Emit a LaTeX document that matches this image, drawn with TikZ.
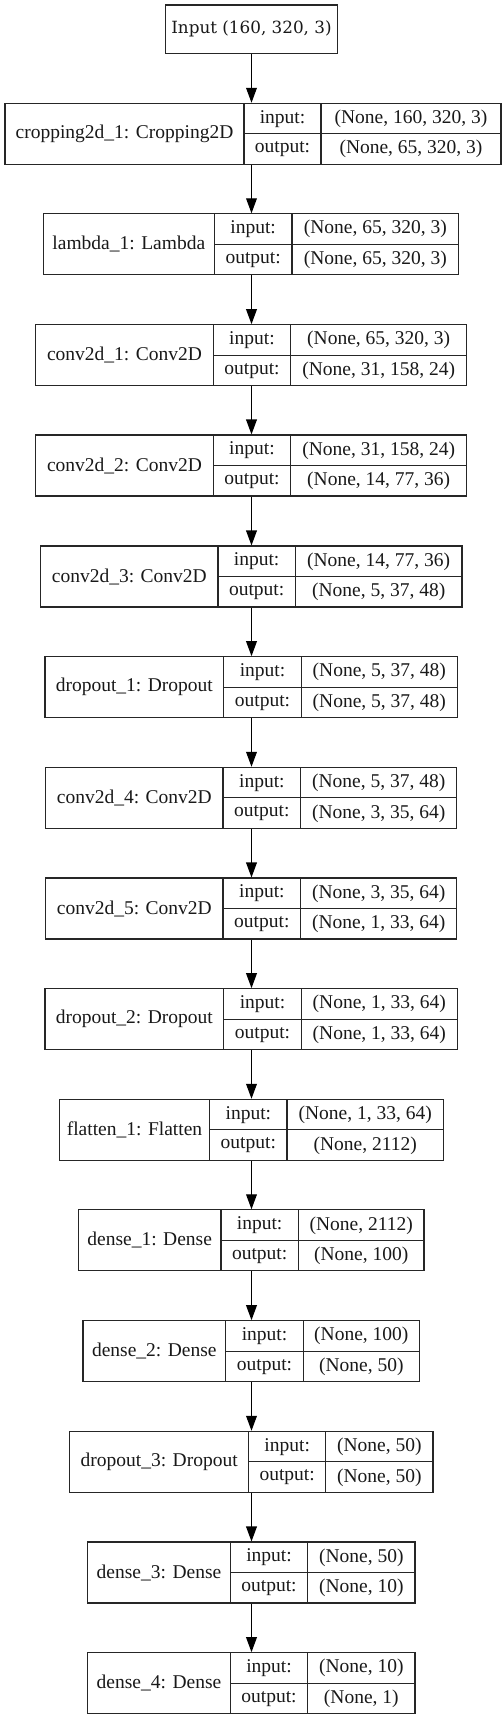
\documentclass[tikz,border=0pt]{standalone}
\usepackage{fontspec}
\setmainfont{Liberation Serif}
\newfontfamily\dvserif{DejaVu Serif}
\usetikzlibrary{arrows.meta,fit}
\tikzset{
  boxline/.style={draw=black!85, line width=0.55pt},
  lbl/.style={inner sep=0pt, font=\fontsize{9.75}{11}\selectfont, text=black!90},
  inlbl/.style={inner sep=0pt, font=\dvserif\fontsize{8.4}{10}\selectfont, text=black!90},
  arr/.style={draw=black, line width=0.55pt, -{Triangle[length=7.5pt,width=5.4pt]}}
}
\newcommand\mylayer[9]{%
  \path (#3,#2) coordinate (#1-nw) ({#6},{#2+61}) coordinate (#1-se);
  \node[boxline, fit=(#1-nw)(#1-se), inner sep=0pt] (#1) {};
  \draw[boxline] (#4,#2) -- ({#4},{#2+61});
  \draw[boxline] (#5,#2) -- ({#5},{#2+61});
  \draw[boxline] (#4,{#2+30.5}) -- (#6,{#2+30.5});
  \node[lbl] (#1-name) at ({(#3+#4)/2},{#2+30.5}) {#7};
  \node[lbl] (#1-ik) at ({(#4+#5)/2},{#2+15.5}) {input:};
  \node[lbl] (#1-ok) at ({(#4+#5)/2},{#2+46}) {output:};
  \node[lbl] (#1-iv) at ({(#5+#6)/2},{#2+15.5}) {#8};
  \node[lbl] (#1-ov) at ({(#5+#6)/2},{#2+46}) {#9};
}
\begin{document}
\begin{tikzpicture}[x=0.5pt,y=-0.5pt]
\useasboundingbox[fill=white] (0,0) rectangle (503,1720);
\path (165.7,5) coordinate (inp-nw) (337.3,53.3) coordinate (inp-se);
\node[boxline, fit=(inp-nw)(inp-se), inner sep=0pt] (inp) {};
\node[inlbl] (inp-txt) at (inp.center) {Input (160, 320, 3)};
\mylayer{l1}{103.3}{5}{244}{321}{501}{cropping2d\_1: Cropping2D}{(None, 160, 320, 3)}{(None, 65, 320, 3)}
\mylayer{l2}{213.8}{43.3}{214.3}{292}{458.7}{lambda\_1: Lambda}{(None, 65, 320, 3)}{(None, 65, 320, 3)}
\mylayer{l3}{324.7}{35.7}{213.3}{290.7}{466.7}{conv2d\_1: Conv2D}{(None, 65, 320, 3)}{(None, 31, 158, 24)}
\mylayer{l4}{435}{35.7}{213.3}{290.7}{466.7}{conv2d\_2: Conv2D}{(None, 31, 158, 24)}{(None, 14, 77, 36)}
\mylayer{l5}{546}{40.7}{218}{295.3}{462}{conv2d\_3: Conv2D}{(None, 14, 77, 36)}{(None, 5, 37, 48)}
\mylayer{l6}{656.7}{45}{223.7}{301.3}{457.3}{dropout\_1: Dropout}{(None, 5, 37, 48)}{(None, 5, 37, 48)}
\mylayer{l7}{767.3}{45.7}{223}{300.7}{456.7}{conv2d\_4: Conv2D}{(None, 5, 37, 48)}{(None, 3, 35, 64)}
\mylayer{l8}{878}{45.7}{223}{300.7}{456.7}{conv2d\_5: Conv2D}{(None, 3, 35, 64)}{(None, 1, 33, 64)}
\mylayer{l9}{988.7}{45}{223.7}{301.3}{457.3}{dropout\_2: Dropout}{(None, 1, 33, 64)}{(None, 1, 33, 64)}
\mylayer{l10}{1099.3}{59.3}{209.7}{287}{443.3}{flatten\_1: Flatten}{(None, 1, 33, 64)}{(None, 2112)}
\mylayer{l11}{1209.8}{78.3}{221}{298.3}{424}{dense\_1: Dense}{(None, 2112)}{(None, 100)}
\mylayer{l12}{1320.7}{83}{225.7}{303.3}{419.3}{dense\_2: Dense}{(None, 100)}{(None, 50)}
\mylayer{l13}{1431.3}{69.7}{248.7}{325.7}{433}{dropout\_3: Dropout}{(None, 50)}{(None, 50)}
\mylayer{l14}{1542}{87.7}{230.3}{307.7}{415}{dense\_3: Dense}{(None, 50)}{(None, 10)}
\mylayer{l15}{1652.7}{87.7}{230.3}{307.7}{415}{dense\_4: Dense}{(None, 10)}{(None, 1)}
\draw[arr] (inp.south) -- (l1.north -| inp.south);
\foreach \a/\b in {l1/l2,l2/l3,l3/l4,l4/l5,l5/l6,l6/l7,l7/l8,l8/l9,l9/l10,l10/l11,l11/l12,l12/l13,l13/l14,l14/l15}
  \draw[arr] (\a.south -| inp.south) -- (\b.north -| inp.south);
\end{tikzpicture}
\end{document}
